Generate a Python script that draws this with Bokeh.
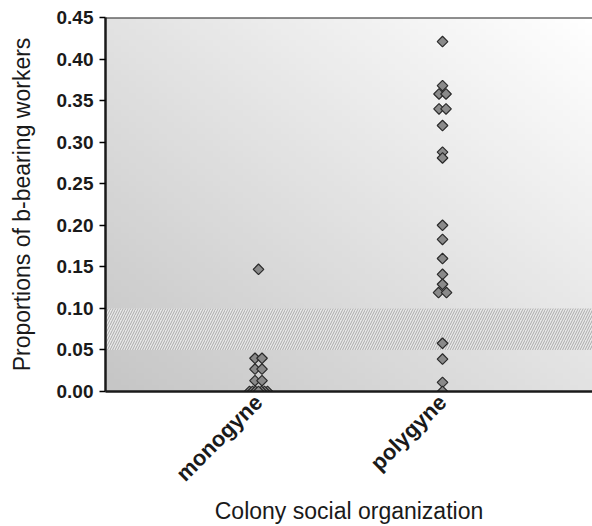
import numpy as np
from math import pi
from bokeh.plotting import figure
from bokeh.models import Range1d, FixedTicker, Span
from bokeh.embed import file_html
from bokeh.resources import INLINE

# ---- data ----
categories = ["monogyne", "polygyne"]
mono_vals = [0.147, 0.040, 0.040, 0.027, 0.027, 0.013, 0.013,
             0.0, 0.0, 0.0, 0.0, 0.0, 0.0, 0.0]
poly_vals = [0.421, 0.368, 0.358, 0.358, 0.340, 0.340, 0.320, 0.288, 0.281,
             0.200, 0.183, 0.160, 0.141, 0.129, 0.119, 0.119,
             0.058, 0.039, 0.011, 0.0]
y_ticks = [0.0, 0.05, 0.10, 0.15, 0.20, 0.25, 0.30, 0.35, 0.40, 0.45]
band_low, band_high = 0.05, 0.10

# ---- layout / style (pixel jitter to separate overlapping points) ----
mono_jit = [0, -3.5, 3.5, -3.5, 3.5, -3.5, 3.5, -9, 9, -6, 6, -3, 3, 0]
poly_jit = [0, 0, -3.5, 3.5, -3.5, 3.5, 0, 0, 0, 0, 0, 0, 0, 0, -4, 4, 0, 0, 0, 0]

W, H = 592, 526
left_b, right_b, top_b, bot_b = 105, 0, 17, 135
frame_w = W - left_b - right_b
x0, x1 = -0.8315, 1.815
ppu = frame_w / (x1 - x0)
y0, y1 = 0.0, 0.45

p = figure(width=W, height=H, output_backend="svg", toolbar_location=None,
           x_range=Range1d(x0, x1), y_range=Range1d(y0, y1),
           min_border_left=left_b, min_border_right=right_b,
           min_border_top=top_b, min_border_bottom=bot_b)
p.outline_line_color = None
p.background_fill_color = "white"
p.border_fill_color = "white"

# gradient background (decorative)
n = 64
gx, gy = np.meshgrid(np.linspace(0, 1, n), np.linspace(0, 1, n))
g = (198 + 57 * (gx + gy) / 2).astype(np.uint8)
img = np.zeros((n, n), dtype=np.uint32)
view = img.view(dtype=np.uint8).reshape((n, n, 4))
view[:, :, 0] = g
view[:, :, 1] = g
view[:, :, 2] = g
view[:, :, 3] = 255
p.image_rgba(image=[img], x=x0, y=y0, dw=x1 - x0, dh=y1 - y0)

# hatched band
p.quad(left=x0, right=x1, bottom=band_low, top=band_high,
       fill_color="#e8e8e8", line_color=None,
       hatch_pattern="/", hatch_color="#aaaaaa", hatch_scale=5, hatch_weight=1)

# grid
p.xgrid.grid_line_color = None
p.ygrid.grid_line_color = "#a4a4a4"
p.ygrid.grid_line_width = 1.3
p.ygrid.ticker = FixedTicker(ticks=y_ticks)
p.add_layout(Span(location=y1, dimension="width", line_color="#222222", line_width=2))

# points
mx = [categories.index("monogyne") + j / ppu for j in mono_jit]
px = [categories.index("polygyne") + j / ppu for j in poly_jit]
p.scatter(mx, mono_vals, marker="square", angle=pi / 4, size=7.5,
          fill_color="#8a8a8a", line_color="#2a2a2a", line_width=1.2)
p.scatter(px, poly_vals, marker="square", angle=pi / 4, size=7.5,
          fill_color="#8a8a8a", line_color="#2a2a2a", line_width=1.2)

# axes
font = "Liberation Sans"
p.yaxis.ticker = FixedTicker(ticks=y_ticks)
p.yaxis.major_label_overrides = {t: f"{t:.2f}" for t in y_ticks}
p.yaxis.major_label_text_font = font
p.yaxis.major_label_text_font_style = "bold"
p.yaxis.major_label_text_font_size = "19px"
p.yaxis.major_label_text_color = "#1a1a1a"
p.yaxis.major_tick_in = 0
p.yaxis.major_tick_out = 6
p.yaxis.major_tick_line_width = 1.5
p.yaxis.minor_tick_line_color = None
p.yaxis.axis_line_width = 2.5
p.yaxis.axis_line_color = "#1a1a1a"
p.yaxis.major_label_standoff = 6
p.yaxis.axis_label = "Proportions of b-bearing workers"
p.yaxis.axis_label_text_font = font
p.yaxis.axis_label_text_font_style = "normal"
p.yaxis.axis_label_text_font_size = "23px"
p.yaxis.axis_label_text_color = "#1a1a1a"
p.yaxis.axis_label_standoff = 19

p.xaxis.ticker = FixedTicker(ticks=list(range(len(categories))))
p.xaxis.major_label_overrides = {i: c for i, c in enumerate(categories)}
p.xaxis.major_label_orientation = pi / 4
p.xaxis.major_label_text_font = font
p.xaxis.major_label_text_font_style = "bold"
p.xaxis.major_label_text_font_size = "22px"
p.xaxis.major_label_text_color = "#1a1a1a"
p.xaxis.major_tick_line_color = None
p.xaxis.major_tick_out = 0
p.xaxis.major_tick_in = 0
p.xaxis.minor_tick_line_color = None
p.xaxis.axis_line_width = 2.5
p.xaxis.axis_line_color = "#1a1a1a"
p.xaxis.major_label_standoff = 7
p.xaxis.axis_label = "Colony social organization"
p.xaxis.axis_label_text_font = font
p.xaxis.axis_label_text_font_style = "normal"
p.xaxis.axis_label_text_font_size = "23px"
p.xaxis.axis_label_text_color = "#1a1a1a"
p.xaxis.axis_label_standoff = 0

open("out.html", "w").write(file_html(p, INLINE))
